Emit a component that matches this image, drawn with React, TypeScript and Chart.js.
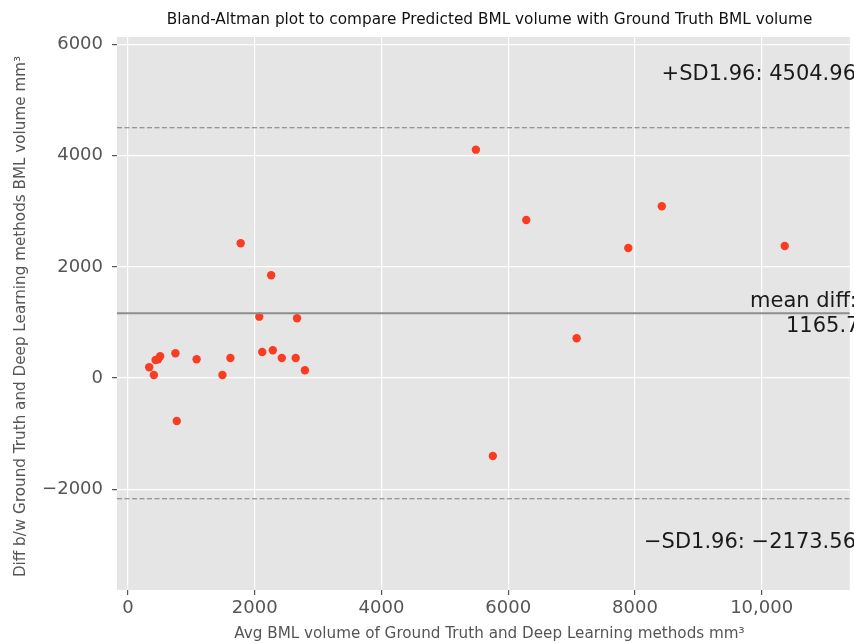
import React, { useEffect, useRef } from "react";
import { Chart, registerables } from "chart.js";
Chart.register(...registerables);

// Data
const avgValues = [
  334, 408, 435, 475, 507, 748, 769, 1082, 1490, 1616, 1778, 2071, 2118, 2259,
  2285, 2427, 2646, 2667, 2792, 5490, 5757, 6285, 7080, 7895, 8424, 10364,
];
const diffValues = [
  193, 54, 324, 337, 391, 445, -774, 337, 54, 360, 2425, 1104, 468, 1849, 499,
  360, 360, 1075, 139, 4110, -1404, 2844, 715, 2340, 3091, 2376,
];
const meanDiff = 1165.7;
const upperLimit = 4504.96;
const lowerLimit = -2173.56;

const xTickValues = [0, 2000, 4000, 6000, 8000, 10000];
const xTickLabels = ["0", "2000", "4000", "6000", "8000", "10,000"];
const yTickValues = [-2000, 0, 2000, 4000, 6000];
const yTickLabels = ["\u22122000", "0", "2000", "4000", "6000"];

const titleText =
  "Bland-Altman plot to compare Predicted BML volume with Ground Truth BML volume";
const xAxisLabel = "Avg BML volume of Ground Truth and Deep Learning methods mm\u00b3";
const yAxisLabel =
  "Diff b/w Ground Truth and Deep Learning methods BML volume mm\u00b3";
const upperText = "+SD1.96: " + upperLimit.toFixed(2);
const meanText1 = "mean diff:";
const meanText2 = meanDiff.toFixed(2);
const lowerText = "\u2212SD1.96: \u2212" + Math.abs(lowerLimit).toFixed(2);

const xRange = [-174, 11391];
const yRange = [-3816, 6138];

const FONT = "'DejaVu Sans', 'Liberation Sans', sans-serif";

const decorPlugin = {
  id: "decor",
  beforeDraw(chart: any) {
    const { ctx, chartArea: a } = chart;
    ctx.save();
    ctx.fillStyle = "#E5E5E5";
    ctx.fillRect(a.left, a.top, a.right - a.left, a.bottom - a.top);
    ctx.restore();
  },
  afterDatasetsDraw(chart: any) {
    const { ctx, chartArea: a, scales } = chart;
    const y = scales.y;
    ctx.save();
    ctx.beginPath();
    ctx.rect(a.left, a.top, a.right - a.left, a.bottom - a.top);
    ctx.clip();
    // mean line
    const ym = y.getPixelForValue(meanDiff);
    ctx.strokeStyle = "#8e8e8e";
    ctx.lineWidth = 2;
    ctx.setLineDash([]);
    ctx.beginPath();
    ctx.moveTo(a.left, ym);
    ctx.lineTo(a.right, ym);
    ctx.stroke();
    // limits
    ctx.lineWidth = 1.1;
    ctx.strokeStyle = "#7c7c7c";
    ctx.setLineDash([5, 2.5]);
    for (const v of [upperLimit, lowerLimit]) {
      const yp = y.getPixelForValue(v);
      ctx.beginPath();
      ctx.moveTo(a.left, yp);
      ctx.lineTo(a.right, yp);
      ctx.stroke();
    }
    ctx.restore();
  },
  afterDraw(chart: any) {
    const { ctx, chartArea: a } = chart;
    ctx.save();
    // title
    ctx.fillStyle = "#111";
    ctx.font = `15.3px ${FONT}`;
    ctx.textAlign = "center";
    ctx.textBaseline = "alphabetic";
    ctx.fillText(titleText, 489.5, 24);
    // x label
    ctx.fillStyle = "#555";
    ctx.font = `15.2px ${FONT}`;
    ctx.fillText(xAxisLabel, 489.5, 638);
    // y label
    ctx.save();
    ctx.translate(25, (a.top + a.bottom) / 2 + 3);
    ctx.rotate(-Math.PI / 2);
    ctx.fillText(yAxisLabel, 0, 0);
    ctx.restore();
    // annotations (right-aligned just beyond the visible edge)
    ctx.fillStyle = "#1a1a1a";
    ctx.font = `21px ${FONT}`;
    ctx.textAlign = "right";
    ctx.fillText(upperText, 856, 80);
    ctx.fillText(lowerText, 856, 548);
    ctx.textAlign = "left";
    ctx.fillText(meanText1, 750, 307);
    ctx.fillText(meanText2, 786, 332);
    ctx.restore();
  },
};

export default function App() {
  const ref = useRef<HTMLCanvasElement>(null);
  useEffect(() => {
    if (!ref.current) return;
    const chart = new Chart(ref.current, {
      type: "scatter",
      data: {
        datasets: [
          {
            data: avgValues.map((x, i) => ({ x, y: diffValues[i] })),
            backgroundColor: "#FA3C22",
            borderWidth: 0,
            pointRadius: 4.2,
            pointHoverRadius: 4.2,
          },
        ],
      },
      options: {
        animation: false,
        responsive: false,
        devicePixelRatio: 1,
        layout: { padding: { top: 37, left: 0, right: 0, bottom: 0 } },
        plugins: {
          legend: { display: false },
          title: { display: false },
          tooltip: { enabled: false },
        },
        scales: {
          x: {
            type: "linear",
            min: xRange[0],
            max: xRange[1],
            afterBuildTicks: (s: any) => {
              s.ticks = xTickValues.map((v) => ({ value: v }));
            },
            afterFit: (s: any) => {
              s.height = 53;
            },
            ticks: {
              callback: (v: any) => {
                const i = xTickValues.indexOf(Number(v));
                return i >= 0 ? xTickLabels[i] : "";
              },
              color: "#555",
              font: { family: FONT, size: 18 },
              padding: 3,
              maxRotation: 0,
              autoSkip: false,
            },
            grid: {
              color: "#ffffff",
              lineWidth: 1.2,
              tickColor: "#555",
              tickLength: 5,
              drawTicks: true,
            },
            border: { display: false },
          },
          y: {
            type: "linear",
            min: yRange[0],
            max: yRange[1],
            afterBuildTicks: (s: any) => {
              s.ticks = yTickValues.map((v) => ({ value: v }));
            },
            afterFit: (s: any) => {
              s.width = 117;
            },
            ticks: {
              callback: (v: any) => {
                const i = yTickValues.indexOf(Number(v));
                return i >= 0 ? yTickLabels[i] : "";
              },
              color: "#555",
              font: { family: FONT, size: 18 },
              padding: 9,
              autoSkip: false,
            },
            grid: {
              color: "#ffffff",
              lineWidth: 1.2,
              tickColor: "#555",
              tickLength: 5,
              drawTicks: true,
            },
            border: { display: false },
          },
        },
      },
      plugins: [decorPlugin],
    });
    return () => chart.destroy();
  }, []);
  return (
    <div style={{ position: "fixed", left: 0, top: 0, width: 854, height: 643, background: "#fff" }}>
      <canvas ref={ref} width={854} height={643} style={{ width: 854, height: 643, display: "block" }} />
    </div>
  );
}
